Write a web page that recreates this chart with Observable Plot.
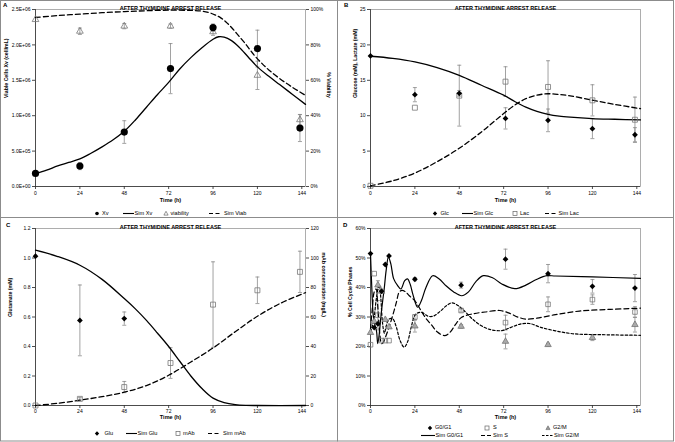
<!DOCTYPE html>
<html><head><meta charset="utf-8">
<script src="https://cdn.jsdelivr.net/npm/d3@7"></script>
<script src="https://cdn.jsdelivr.net/npm/@observablehq/plot@0.6"></script>
<style>
body{margin:0;background:#fff;}
#page{position:relative;width:675px;height:442px;overflow:hidden;background:#fff;}
</style></head><body><div id="page"></div>
<script>
// ---------- shared ----------
const timeTicks = [0, 24, 48, 72, 96, 120, 144];
const panelTitle = "AFTER THYMIDINE ARREST RELEASE";

// ---------- Panel A : viable cells & viability ----------
const xvTime = [0, 24, 48, 73, 96, 120, 143];
const xvMean = [1.84e5, 2.88e5, 7.69e5, 1.665e6, 2.245e6, 1.948e6, 8.25e5];
const xvErr  = [0, 0.05e6, 0.16e6, 0.354e6, 0.05e6, 0.26e6, 0.19e6];
const viabTime = [0, 24, 48, 73, 96, 120, 143];
const viabMean = [94.3, 87.7, 90.6, 90.6, 87.4, 62.8, 37.7];
const viabErr  = [0, 1.8, 1.5, 1.2, 2, 8, 3];
const simXvTime  = [0, 6, 12, 18, 24, 30, 36, 42, 48, 54, 60, 66, 72, 78, 84, 90, 96, 99, 102, 106, 110, 115, 120, 126, 132, 139, 146];
const simXvValue = [0.18e6, 0.23e6, 0.29e6, 0.34e6, 0.39e6, 0.47e6, 0.56e6, 0.66e6, 0.78e6, 0.94e6, 1.12e6, 1.3e6, 1.47e6, 1.66e6, 1.82e6, 1.96e6, 2.08e6, 2.115e6, 2.11e6, 2.06e6, 1.97e6, 1.83e6, 1.69e6, 1.56e6, 1.44e6, 1.3e6, 1.16e6];
const simViabTime  = [0, 12, 24, 36, 48, 60, 72, 84, 90, 94, 97, 100, 103, 106, 110, 114, 118, 122, 126, 132, 139, 146];
const simViabValue = [95.5, 96.6, 97.4, 98.2, 98.8, 99.3, 99.6, 99.5, 99.1, 98.2, 97, 95.4, 93, 89.8, 85, 80, 74.5, 70, 66, 61, 56, 51.5];

// ---------- Panel B : glucose & lactate ----------
const glcTime = [0, 24, 48, 73, 96, 120, 143];
const glcMean = [18.44, 12.97, 13.16, 9.62, 9.34, 8.16, 7.31];
const glcErr  = [0, 1.0, 0.4, 1.5, 1.6, 1.4, 1.0];
const lacTime = [0, 24, 48, 73, 96, 120, 143];
const lacMean = [0.1, 11.13, 12.83, 14.81, 14.06, 12.17, 9.43];
const lacErr  = [0, 0, 4.3, 2.1, 3.7, 2.2, 3.2];
const simGlcTime  = [0, 12, 24, 36, 48, 60, 72, 78, 84, 90, 96, 102, 108, 120, 132, 146];
const simGlcValue = [18.4, 18.1, 17.6, 16.8, 15.7, 14.3, 12.9, 12.0, 11.2, 10.6, 10.2, 9.95, 9.8, 9.6, 9.5, 9.4];
const simLacTime  = [0, 12, 24, 36, 48, 60, 66, 72, 78, 84, 90, 96, 102, 108, 120, 132, 146];
const simLacValue = [0.1, 0.8, 1.9, 3.5, 5.4, 7.7, 9.0, 10.3, 11.5, 12.4, 12.9, 13.1, 13.0, 12.8, 12.2, 11.6, 11.0];

// ---------- Panel C : glutamate & mAb ----------
const gluTime = [0, 24, 48];
const gluMean = [1.012, 0.577, 0.589];
const gluErr  = [0, 0.24, 0.045];
const mabTime = [0, 24, 48, 73, 96, 120, 143];
const mabMean = [0, 4.5, 12.5, 28.8, 68.4, 78.1, 90.6];
const mabErr  = [0, 0.8, 3.8, 10.4, 29, 9, 14];
const simGluTime  = [0, 12, 24, 36, 48, 54, 60, 66, 72, 78, 84, 90, 96, 102, 108, 114, 120, 146];
const simGluValue = [1.053, 1.01, 0.951, 0.855, 0.725, 0.655, 0.577, 0.49, 0.4, 0.3, 0.2, 0.115, 0.05, 0.02, 0.006, 0.001, 0, 0];
const simMabTime  = [0, 12, 24, 36, 48, 60, 72, 84, 96, 108, 120, 132, 146];
const simMabValue = [0, 1.5, 3.6, 6, 9, 13.5, 20.5, 29.5, 39, 50, 60.5, 69, 76.5];

// ---------- Panel D : cell cycle phases (%) ----------
const phaseTime = [0, 2, 4, 6, 8, 10, 24, 49, 73, 96, 120, 143];
const g1Mean = [51.5, 26.4, 27.7, 38.7, 47.8, 50.7, 42.8, 40.8, 49.6, 44.7, 40.4, 39.8];
const g1Err  = [0, 0, 0, 0, 0, 0, 0.5, 1, 3.4, 3.1, 2.3, 4.6];
const sMean  = [20.6, 44.7, 30.6, 22, 22, 22, 30, 32.2, 28.1, 34.3, 35.9, 31.7];
const sErr   = [0, 0, 5, 0, 0, 0, 0.8, 0.5, 2.5, 2.5, 1.6, 1.8];
const g2Mean = [24.7, 28.5, 40.8, 38.7, 29.1, 26.6, 26.9, 26.8, 21.7, 20.6, 23, 27.4];
const g2Err  = [0, 0, 1.5, 0, 0, 0, 2, 0.6, 2.5, 0.5, 1, 2.5];
const simG1Time  = [0, 0.7, 1.5, 2.5, 3.3, 3.9, 4.6, 5.5, 6.5, 7.4, 8.5, 9.7, 11, 12.5, 14.6, 16.4, 18.5, 20, 21.5, 23, 25.5, 27.5, 30, 33.6, 37, 41, 45, 49.3, 53, 57, 61, 66, 71, 78, 84, 90, 95.4, 100, 120, 146];
const simG1Value = [51.5, 40, 30.5, 27, 25, 21, 23.5, 29.5, 35, 39.5, 46, 50.3, 48, 43, 40.7, 39.5, 42.3, 42.9, 41, 37.5, 33.3, 35.5, 40, 44, 43, 40.5, 38.5, 37.2, 38.5, 42, 44, 43.3, 41.2, 39.6, 40.8, 42.8, 44, 43.9, 43.6, 43.1];
const simSTime  = [0, 1, 2, 3, 4, 5, 6, 7, 8, 10, 12, 14, 15.5, 17, 19, 21, 24, 27, 30, 33, 36, 40, 43, 46, 49.3, 55.6, 62, 70, 75, 80, 84, 90, 100, 113, 130, 146];
const simSValue = [26, 33, 38.5, 39.5, 33, 24.5, 21, 21.5, 23, 26.5, 30.5, 35, 38.4, 39, 38.5, 37.2, 35.5, 32.5, 29.5, 27.3, 25, 23.7, 24.8, 27.5, 29.9, 31.1, 31.7, 32.2, 31.3, 29.9, 29.3, 29.6, 30.8, 32, 32.6, 33];
const simG2Time  = [0, 1, 2, 3, 4, 4.7, 5.5, 6.5, 7.5, 8.5, 10, 12, 14, 16, 18.2, 20, 22, 24, 26, 28, 31, 34, 37.6, 41, 44, 47, 50, 55, 60, 65, 71, 76, 81, 86, 92, 100, 110, 125, 146];
const simG2Value = [25, 27, 30, 35.5, 39.5, 41, 37, 28, 24.5, 27, 29.3, 29.4, 26.5, 22, 19.8, 21.5, 26.5, 30.6, 31.5, 31.5, 30.3, 30.3, 31.9, 33.8, 34.8, 34, 32.5, 29.4, 27, 25.7, 25.4, 26.5, 27.6, 27.8, 26.5, 25.3, 24.3, 24, 23.8];

// ---------- helpers ----------
const FONT = '"Liberation Sans", Arial, Helvetica, sans-serif';
const page = document.getElementById("page");
const rows = (t, v, k = 1) => t.map((x, i) => ({x, y: v[i] * k}));
const errRows = (t, m, e, k = 1) => t.map((x, i) => ({x, lo: (m[i] - e[i]) * k, hi: (m[i] + e[i]) * k})).filter(d => d.hi > d.lo);
const capSym = {draw(ctx, size) { const w = Math.sqrt(size / Math.PI); ctx.moveTo(-w, 0); ctx.lineTo(w, 0); }};
function errMarks(t, m, e, k = 1, stroke = "#8a8a8a") {
  const d = errRows(t, m, e, k);
  return [
    Plot.ruleX(d, {x: "x", y1: "lo", y2: "hi", stroke, strokeWidth: 0.8}),
    Plot.dot(d, {x: "x", y: "lo", symbol: capSym, r: 2, fill: "none", stroke, strokeWidth: 0.8}),
    Plot.dot(d, {x: "x", y: "hi", symbol: capSym, r: 2, fill: "none", stroke, strokeWidth: 0.8})
  ];
}
const sciFmt = d => {
  if (d === 0) return "0.0E+00";
  const e = Math.floor(Math.log10(d));
  return (d / 10 ** e).toFixed(1) + "E+" + String(e).padStart(2, "0");
};
const smooth = "catmull-rom";

function makePanel(c) {
  const marks = [
    Plot.frame({stroke: "#9a9a9a", strokeWidth: 0.8}),
    Plot.axisX({ticks: timeTicks, tickSize: 3, tickPadding: c.xPad, tickFormat: d => String(d), label: null, fontSize: 5, strokeWidth: 0.7}),
    Plot.axisY({ticks: c.yTicks, tickFormat: c.yFmt, tickSize: 3, tickPadding: 2, label: null, fontSize: 5, strokeWidth: 0.7})
  ];
  if (c.rTicks) marks.push(Plot.axisY({anchor: "right", ticks: c.rTicks, tickFormat: c.rFmt, tickSize: 3, tickPadding: 2, label: null, fontSize: 5, strokeWidth: 0.7}));
  marks.push(Plot.ruleX([0], {stroke: "#333", strokeWidth: 0.8}));
  marks.push(Plot.ruleY([c.yDomain[0]], {stroke: "#333", strokeWidth: 0.8}));
  marks.push(Plot.text([panelTitle], {frameAnchor: "top", dy: -3, fontWeight: "bold", fontSize: 5.5}));
  marks.push(Plot.text(["Time (h)"], {frameAnchor: "bottom", dy: c.xlDy, fontWeight: "bold", fontSize: 5.5}));
  marks.push(Plot.text([c.yLabel], {frameAnchor: "left", rotate: -90, dx: c.ylDx, fontWeight: "bold", fontSize: 5.2}));
  if (c.rLabel) marks.push(Plot.text([c.rLabel], {frameAnchor: "right", rotate: 90, dx: c.rlDx, fontWeight: "bold", fontSize: 5.2}));
  marks.push(...c.marks);
  const svg = Plot.plot({
    width: c.width, height: c.height,
    marginLeft: c.ml, marginRight: c.mr, marginTop: c.mt, marginBottom: c.mb,
    style: {fontFamily: FONT, fontSize: "5px", color: "#000", background: "transparent", overflow: "visible"},
    x: {domain: [0, 146]},
    y: {domain: c.yDomain},
    marks
  });
  svg.style.position = "absolute";
  svg.style.left = c.left + "px";
  svg.style.top = c.top + "px";
  page.appendChild(svg);
}

// ---------- Panel A ----------
const kA = 25000; // % viability -> cell axis
makePanel({
  left: 0, top: 0, width: 337, height: 210, ml: 35, mr: 32, mt: 9, mb: 24,
  yDomain: [0, 2.5e6], yTicks: [0, 5e5, 1e6, 1.5e6, 2e6, 2.5e6], yFmt: sciFmt,
  rTicks: [0, 5e5, 1e6, 1.5e6, 2e6, 2.5e6], rFmt: d => Math.round(d / kA) + "%",
  yLabel: "Viable Cells Xv (cell/mL)", ylDx: -29, rLabel: "% Viability", rlDx: 23, xlDy: 15.5, xPad: 1.5,
  marks: [
    ...errMarks(xvTime, xvMean, xvErr),
    ...errMarks(viabTime, viabMean, viabErr, kA),
    Plot.line(rows(simXvTime, simXvValue), {x: "x", y: "y", stroke: "#000", strokeWidth: 1.3, curve: smooth}),
    Plot.line(rows(simViabTime, simViabValue, kA), {x: "x", y: "y", stroke: "#000", strokeWidth: 1.3, strokeDasharray: "5,3", curve: smooth}),
    Plot.dot(rows(viabTime, viabMean, kA), {x: "x", y: "y", symbol: "triangle", r: 2.5, fill: "none", stroke: "#777", strokeWidth: 0.8}),
    Plot.dot(rows(xvTime, xvMean), {x: "x", y: "y", r: 3.6, fill: "#000", stroke: "none"})
  ]
});

// ---------- Panel B ----------
makePanel({
  left: 335, top: 0, width: 337, height: 210, ml: 35, mr: 32, mt: 9, mb: 24,
  yDomain: [0, 25], yTicks: [0, 5, 10, 15, 20, 25], yFmt: d => String(d),
  yLabel: "Glucose (mM), Lactate (mM)", ylDx: -15, xlDy: 15.5, xPad: 1.5,
  marks: [
    ...errMarks(glcTime, glcMean, glcErr),
    ...errMarks(lacTime, lacMean, lacErr),
    Plot.line(rows(simGlcTime, simGlcValue), {x: "x", y: "y", stroke: "#000", strokeWidth: 1.3, curve: smooth}),
    Plot.line(rows(simLacTime, simLacValue), {x: "x", y: "y", stroke: "#000", strokeWidth: 1.3, strokeDasharray: "5,3", curve: smooth}),
    Plot.dot(rows(lacTime, lacMean), {x: "x", y: "y", symbol: "square", r: 2.8, fill: "none", stroke: "#777", strokeWidth: 0.8}),
    Plot.dot(rows(glcTime, glcMean), {x: "x", y: "y", symbol: "diamond2", r: 2.6, fill: "#000", stroke: "none"})
  ]
});

// ---------- Panel C ----------
const kC = 0.01; // mAb mg/L -> glutamate axis
makePanel({
  left: 0, top: 217, width: 337, height: 212, ml: 35, mr: 32, mt: 11, mb: 24,
  yDomain: [0, 1.2], yTicks: [0, 0.2, 0.4, 0.6, 0.8, 1.0, 1.2], yFmt: d => d.toFixed(1),
  rTicks: [0, 0.2, 0.4, 0.6, 0.8, 1.0, 1.2], rFmt: d => String(Math.round(d / kC)),
  yLabel: "Glutamate (mM)", ylDx: -25, rLabel: "mAb concentration (mg/L)", rlDx: 18, xlDy: 13.6, xPad: 0.8,
  marks: [
    ...errMarks(gluTime, gluMean, gluErr),
    ...errMarks(mabTime, mabMean, mabErr, kC),
    Plot.line(rows(simGluTime, simGluValue), {x: "x", y: "y", stroke: "#000", strokeWidth: 1.3, curve: smooth}),
    Plot.line(rows(simMabTime, simMabValue, kC), {x: "x", y: "y", stroke: "#000", strokeWidth: 1.3, strokeDasharray: "5,3", curve: smooth}),
    Plot.dot(rows(mabTime, mabMean, kC), {x: "x", y: "y", symbol: "square", r: 2.8, fill: "none", stroke: "#777", strokeWidth: 0.8}),
    Plot.dot(rows(gluTime, gluMean), {x: "x", y: "y", symbol: "diamond2", r: 2.6, fill: "#000", stroke: "none"})
  ]
});

// ---------- Panel D ----------
makePanel({
  left: 335, top: 217, width: 337, height: 212, ml: 35, mr: 32, mt: 11, mb: 24,
  yDomain: [0, 60], yTicks: [0, 10, 20, 30, 40, 50, 60], yFmt: d => d + "%",
  yLabel: "% Cell Cycle Phases", ylDx: -20, xlDy: 13.8, xPad: 0.8,
  marks: [
    ...errMarks(phaseTime, g1Mean, g1Err),
    ...errMarks(phaseTime, sMean, sErr),
    ...errMarks(phaseTime, g2Mean, g2Err),
    Plot.line(rows(simG1Time, simG1Value), {x: "x", y: "y", stroke: "#000", strokeWidth: 1.2, curve: smooth}),
    Plot.line(rows(simSTime, simSValue), {x: "x", y: "y", stroke: "#000", strokeWidth: 1.2, strokeDasharray: "5,3", curve: smooth}),
    Plot.line(rows(simG2Time, simG2Value), {x: "x", y: "y", stroke: "#000", strokeWidth: 1.2, strokeDasharray: "2.5,2", curve: smooth}),
    Plot.dot(rows(phaseTime, sMean), {x: "x", y: "y", symbol: "square", r: 2.6, fill: "none", stroke: "#777", strokeWidth: 0.8}),
    Plot.dot(rows(phaseTime, g2Mean), {x: "x", y: "y", symbol: "triangle", r: 2.4, fill: "#aaa", stroke: "#6a6a6a", strokeWidth: 0.7}),
    Plot.dot(rows(phaseTime, g1Mean), {x: "x", y: "y", symbol: "diamond2", r: 2.6, fill: "#000", stroke: "none"})
  ]
});

// ---------- frames, panel letters and legends (overlay) ----------
const ov = d3.select(page).append("svg")
  .attr("width", 675).attr("height", 442)
  .style("position", "absolute").style("left", "0px").style("top", "0px")
  .style("pointer-events", "none")
  .style("font-family", FONT);

[[0.5, 0.5, 337, 217], [337.5, 0.5, 336, 217], [0.5, 217.5, 337, 223.5], [337.5, 217.5, 336, 223.5]]
  .forEach(([x, y, w, h]) => ov.append("rect").attr("x", x).attr("y", y).attr("width", w).attr("height", h)
    .attr("fill", "none").attr("stroke", "#8c8c8c").attr("stroke-width", 1));

[["A", 3, 5], ["B", 344, 5], ["C", 6, 225], ["D", 343, 225]].forEach(([t, x, y]) =>
  ov.append("text").attr("x", x).attr("y", y).attr("dominant-baseline", "middle")
    .attr("font-size", 6).attr("font-weight", "bold").text(t));

function glyph(type, x, y) {
  if (type === "circle") ov.append("circle").attr("cx", x).attr("cy", y).attr("r", 1.8).attr("fill", "#000");
  else if (type === "diamond") ov.append("path").attr("d", `M${x},${y - 2.2}L${x + 2.2},${y}L${x},${y + 2.2}L${x - 2.2},${y}Z`).attr("fill", "#000");
  else if (type === "square") ov.append("rect").attr("x", x - 2).attr("y", y - 2).attr("width", 4).attr("height", 4).attr("fill", "none").attr("stroke", "#666").attr("stroke-width", 0.7);
  else if (type === "triOpen") ov.append("path").attr("d", `M${x},${y - 2.2}L${x + 2.1},${y + 1.6}L${x - 2.1},${y + 1.6}Z`).attr("fill", "none").attr("stroke", "#666").attr("stroke-width", 0.7);
  else if (type === "triFill") ov.append("path").attr("d", `M${x},${y - 2.2}L${x + 2.1},${y + 1.6}L${x - 2.1},${y + 1.6}Z`).attr("fill", "#999").attr("stroke", "#666").attr("stroke-width", 0.6);
}
function lineGlyph(x1, x2, y, dash) {
  const l = ov.append("line").attr("x1", x1).attr("x2", x2).attr("y1", y).attr("y2", y).attr("stroke", "#000").attr("stroke-width", 1.1);
  if (dash) l.attr("stroke-dasharray", dash);
}
function label(x, y, t) {
  ov.append("text").attr("x", x).attr("y", y).attr("dominant-baseline", "middle").attr("font-size", 5.6).text(t);
}
// A
glyph("circle", 97, 213.5); label(102, 213.5, "Xv");
lineGlyph(123, 134, 213.5); label(134.5, 213.5, "Sim Xv");
glyph("triOpen", 166, 213.5); label(170.5, 213.5, "viability");
lineGlyph(209, 222, 213.5, "4,2.5"); label(224, 213.5, "Sim Viab");
// B
glyph("diamond", 435, 213.5); label(440.5, 213.5, "Glc");
lineGlyph(462, 473, 213.5); label(473.5, 213.5, "Sim Glc");
glyph("square", 515, 213.5); label(520, 213.5, "Lac");
lineGlyph(545, 557, 213.5, "4,2.5"); label(558.5, 213.5, "Sim Lac");
// C
glyph("diamond", 97, 433.5); label(104.5, 433.5, "Glu");
lineGlyph(126, 137, 433.5); label(137.5, 433.5, "Sim Glu");
glyph("square", 178, 433.5); label(183, 433.5, "mAb");
lineGlyph(208, 221, 433.5, "4,2.5"); label(223, 433.5, "Sim mAb");
// D
glyph("diamond", 430, 428); label(435, 428, "G0/G1");
glyph("square", 487, 428); label(493, 428, "S");
glyph("triFill", 548, 428); label(553, 428, "G2/M");
lineGlyph(421, 435, 435.5); label(435.5, 435.5, "Sim G0/G1");
lineGlyph(481, 492, 435.5, "4,2"); label(493, 435.5, "Sim S");
lineGlyph(542, 553, 435.5, "2.5,1.5"); label(554, 435.5, "Sim G2/M");
</script>
</body></html>
